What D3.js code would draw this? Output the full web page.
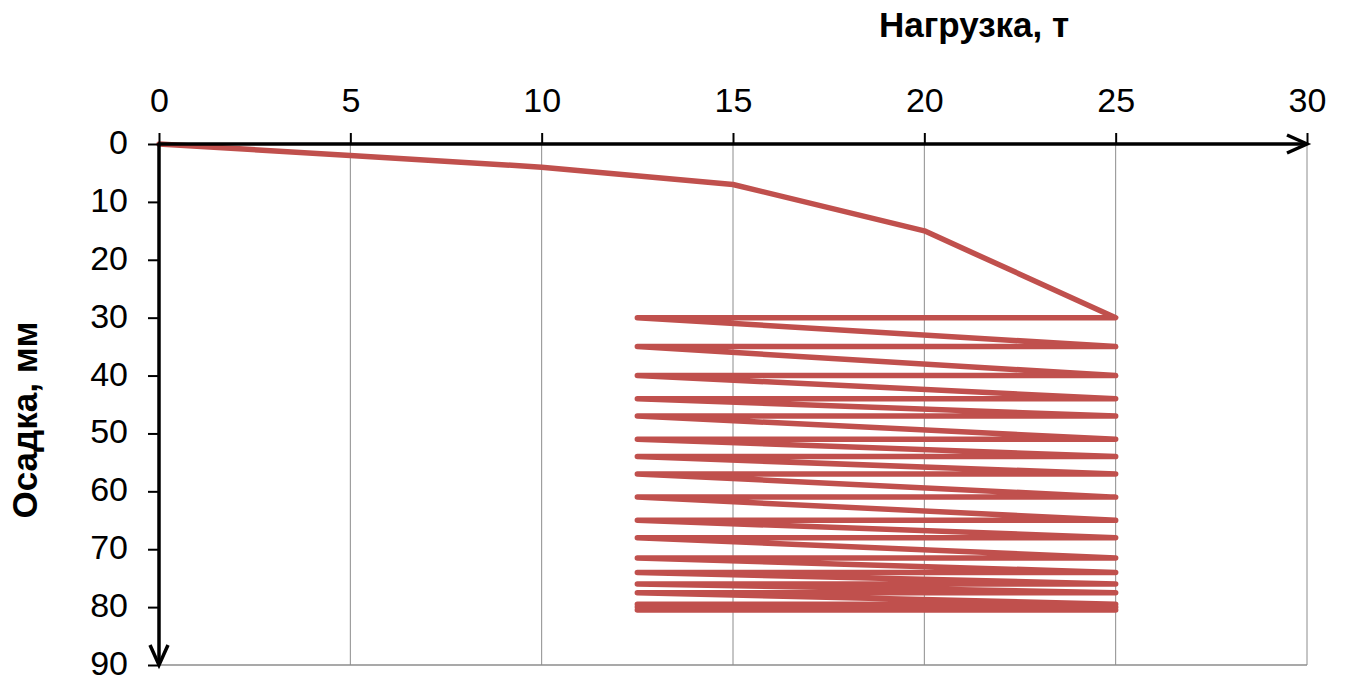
<!DOCTYPE html>
<html>
<head>
<meta charset="utf-8">
<script src="https://cdn.jsdelivr.net/npm/d3@7"></script>
<style>
  html, body { margin: 0; padding: 0; background: #fff; }
  svg { display: block; }
  text { font-family: "Liberation Sans", Arial, sans-serif; fill: #000; }
</style>
</head>
<body>
<svg id="chart" width="1347" height="682"></svg>
<script>
// Load test: load (t) vs settlement (mm), with repeated unload/reload cycles
const loads = [0, 5, 10, 15, 20, 25,
  12.5, 25, 12.5, 25, 12.5, 25, 12.5, 25, 12.5, 25, 12.5, 25, 12.5, 25,
  12.5, 25, 12.5, 25, 12.5, 25, 12.5, 25, 12.5, 25, 12.5, 25, 12.5, 25,
  12.5, 25, 12.5, 25, 12.5, 25, 12.5, 25];
const settlements = [0, 2, 4, 7, 15, 30,
  30, 35, 35, 40, 40, 44, 44, 47, 47, 51, 51, 54, 54, 57,
  57, 61, 61, 65, 65, 68, 68, 71.5, 71.5, 74, 74, 76, 76, 77.5,
  77.5, 79.5, 79.5, 80, 80, 80.5, 80.5, 80.5];

const xTicks = [0, 5, 10, 15, 20, 25, 30];
const yTicks = [0, 10, 20, 30, 40, 50, 60, 70, 80, 90];
const xTitle = "Нагрузка, т";
const yTitle = "Осадка, мм";

const svg = d3.select("#chart");
const x = d3.scaleLinear().domain([0, 30]).range([159, 1307]);
const y = d3.scaleLinear().domain([0, 90]).range([144, 665]);

// vertical gridlines
svg.append("g")
  .selectAll("line")
  .data(xTicks.filter(d => d > 0))
  .join("line")
  .attr("x1", d => x(d)).attr("x2", d => x(d))
  .attr("y1", y(0)).attr("y2", y(90))
  .attr("stroke", "#8c8c8c").attr("stroke-width", 1);

// bottom border of the plot area
svg.append("line")
  .attr("x1", x(0)).attr("x2", x(30))
  .attr("y1", y(90)).attr("y2", y(90))
  .attr("stroke", "#8c8c8c").attr("stroke-width", 1.5);

// settlement curve
const line = d3.line()
  .x((d, i) => x(loads[i]))
  .y((d, i) => y(settlements[i]));

svg.append("path")
  .datum(loads)
  .attr("d", line)
  .attr("fill", "none")
  .attr("stroke", "#c0504d")
  .attr("stroke-width", 5.5)
  .attr("stroke-linejoin", "round")
  .attr("stroke-linecap", "round");

const tickFont = "34px";

// top axis (load)
const xAxis = svg.append("g")
  .attr("transform", `translate(0,${y(0)})`)
  .call(d3.axisTop(x).tickValues(xTicks).tickSize(11).tickSizeOuter(0).tickPadding(21));
xAxis.select(".domain").remove();
xAxis.selectAll(".tick line").attr("stroke", "#000").attr("stroke-width", 2);
xAxis.selectAll(".tick text")
  .style("font-size", tickFont)
  .style("font-family", "'Liberation Sans', Arial, sans-serif");

// left axis (settlement)
const yAxis = svg.append("g")
  .attr("transform", `translate(${x(0)},0)`)
  .call(d3.axisLeft(y).tickValues(yTicks).tickSize(11).tickSizeOuter(0).tickPadding(20));
yAxis.select(".domain").remove();
yAxis.selectAll(".tick line").attr("stroke", "#000").attr("stroke-width", 2);
yAxis.selectAll(".tick text")
  .attr("dy", "0.28em")
  .style("font-size", tickFont)
  .style("font-family", "'Liberation Sans', Arial, sans-serif");

// axis lines with arrowheads
svg.append("line")
  .attr("x1", x(0) - 1).attr("x2", x(30))
  .attr("y1", y(0)).attr("y2", y(0))
  .attr("stroke", "#000").attr("stroke-width", 3.5);
svg.append("path")
  .attr("d", `M${x(30) - 20},${y(0) - 9} L${x(30)},${y(0)} L${x(30) - 20},${y(0) + 9}`)
  .attr("fill", "none").attr("stroke", "#000").attr("stroke-width", 3.5);

svg.append("line")
  .attr("x1", x(0)).attr("x2", x(0))
  .attr("y1", y(0) - 1).attr("y2", y(90))
  .attr("stroke", "#000").attr("stroke-width", 3.5);
svg.append("path")
  .attr("d", `M${x(0) - 9},${y(90) - 20} L${x(0)},${y(90)} L${x(0) + 9},${y(90) - 20}`)
  .attr("fill", "none").attr("stroke", "#000").attr("stroke-width", 3.5);

// axis titles
svg.append("text")
  .attr("x", 974).attr("y", 37)
  .attr("text-anchor", "middle")
  .style("font-size", "35px").style("font-weight", "bold")
  .text(xTitle);

svg.append("text")
  .attr("transform", "translate(37,420) rotate(-90)")
  .attr("text-anchor", "middle")
  .style("font-size", "35px").style("font-weight", "bold")
  .text(yTitle);
</script>
</body>
</html>
